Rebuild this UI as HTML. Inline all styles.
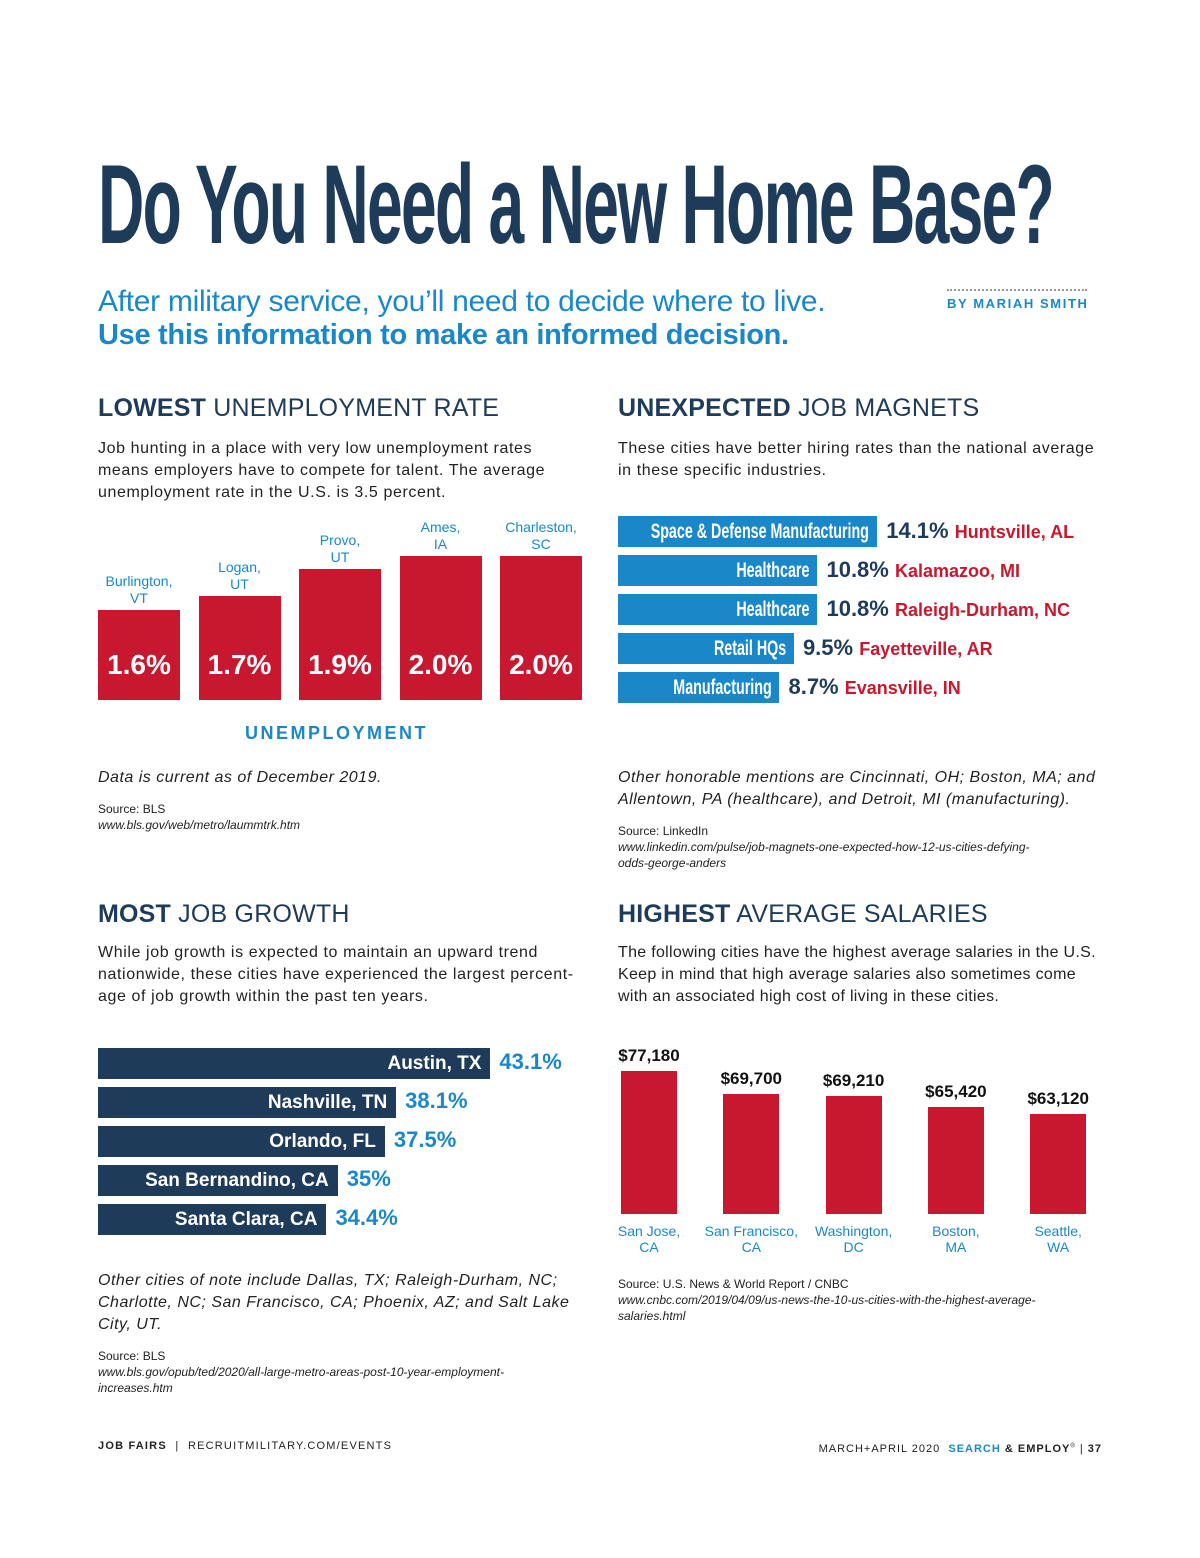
<!DOCTYPE html>
<html><head><meta charset="utf-8">
<style>
*{margin:0;padding:0;box-sizing:border-box}
body{width:1200px;height:1558px;background:#fff;position:relative;overflow:hidden;font-family:"Liberation Sans",sans-serif;color:#222}
.a{position:absolute;white-space:nowrap}
.navy{color:#1f3b5a}.blue{color:#1a88c8}.red{color:#c8182f}
.h2{font-size:25px;color:#1f3b5a;letter-spacing:0.2px}
.p{font-size:16px;line-height:22px;color:#222;letter-spacing:0.6px}
.it{font-style:italic;font-size:16px;line-height:22px;letter-spacing:0.5px}
.src{font-size:12px;line-height:16px}
.cond{position:absolute;right:8px;top:0;display:inline-block;transform:scaleX(0.68);transform-origin:right center;font-weight:bold}
</style></head><body>
<div class="a navy" id="title" style="left:98px;top:140px;font-size:112px;font-weight:bold;letter-spacing:-3px;transform-origin:left top">Do You Need a New Home Base?</div>
<div class="a blue" style="left:98px;top:285px;font-size:30px;letter-spacing:-0.3px">After military service, you’ll need to decide where to live.</div>
<div class="a blue" style="left:98px;top:319px;font-size:29px;font-weight:bold;letter-spacing:-0.3px">Use this information to make an informed decision.</div>
<div class="a" style="left:947px;top:289px;width:140px;border-top:2px dotted #999"></div>
<div class="a blue" style="left:947px;top:296px;font-size:13px;font-weight:bold;letter-spacing:1.6px">BY MARIAH SMITH</div>

<div class="a h2" style="left:98px;top:394px"><b>LOWEST</b> UNEMPLOYMENT RATE</div>
<div class="a p" style="left:98px;top:438px">Job hunting in a place with very low unemployment rates<br>means employers have to compete for talent. The average<br>unemployment rate in the U.S. is 3.5 percent.</div>
<div id="unemp"></div>
<div class="a blue" style="left:245px;top:723px;font-size:18px;font-weight:bold;letter-spacing:2.5px">UNEMPLOYMENT</div>
<div class="a it" style="left:98px;top:767px">Data is current as of December 2019.</div>
<div class="a src" style="left:98px;top:801px">Source: BLS<br><i>www.bls.gov/web/metro/laummtrk.htm</i></div>

<div class="a h2" style="left:618px;top:394px"><b>UNEXPECTED</b> JOB MAGNETS</div>
<div class="a p" style="left:618px;top:438px">These cities have better hiring rates than the national average<br>in these specific industries.</div>
<div id="magnets"></div>
<div class="a it" style="left:618px;top:767px">Other honorable mentions are Cincinnati, OH; Boston, MA; and<br>Allentown, PA (healthcare), and Detroit, MI (manufacturing).</div>
<div class="a src" style="left:618px;top:823px">Source: LinkedIn<br><i>www.linkedin.com/pulse/job-magnets-one-expected-how-12-us-cities-defying-<br>odds-george-anders</i></div>

<div class="a h2" style="left:98px;top:900px"><b>MOST</b> JOB GROWTH</div>
<div class="a p" style="left:98px;top:942px">While job growth is expected to maintain an upward trend<br>nationwide, these cities have experienced the largest percent-<br>age of job growth within the past ten years.</div>
<div id="growth"></div>
<div class="a it" style="left:98px;top:1270px">Other cities of note include Dallas, TX; Raleigh-Durham, NC;<br>Charlotte, NC; San Francisco, CA; Phoenix, AZ; and Salt Lake<br>City, UT.</div>
<div class="a src" style="left:98px;top:1348px">Source: BLS<br><i>www.bls.gov/opub/ted/2020/all-large-metro-areas-post-10-year-employment-<br>increases.htm</i></div>

<div class="a h2" style="left:618px;top:900px"><b>HIGHEST</b> AVERAGE SALARIES</div>
<div class="a p" style="left:618px;top:942px;letter-spacing:0.3px">The following cities have the highest average salaries in the U.S.<br>Keep in mind that high average salaries also sometimes come<br>with an associated high cost of living in these cities.</div>
<div id="sal"></div>
<div class="a src" style="left:618px;top:1276px">Source: U.S. News &amp; World Report / CNBC<br><i>www.cnbc.com/2019/04/09/us-news-the-10-us-cities-with-the-highest-average-<br>salaries.html</i></div>

<div class="a" style="left:98px;top:1440px;font-size:11px;letter-spacing:1.2px"><b>JOB FAIRS</b> &nbsp;|&nbsp; RECRUITMILITARY.COM/EVENTS</div>
<div class="a" style="right:98px;top:1443px;font-size:11px;letter-spacing:1px">MARCH+APRIL 2020 &nbsp;<b class="blue">SEARCH</b> <b>&amp; EMPLOY</b><sup style="font-size:6px">®</sup> | <b>37</b></div>

<script>
const unempCities=["Burlington,<br>VT","Logan,<br>UT","Provo,<br>UT","Ames,<br>IA","Charleston,<br>SC"];
const unempValues=[1.6,1.7,1.9,2.0,2.0];
const magnetIndustries=["Space & Defense Manufacturing","Healthcare","Healthcare","Retail HQs","Manufacturing"];
const magnetValues=[14.1,10.8,10.8,9.5,8.7];
const magnetCities=["Huntsville, AL","Kalamazoo, MI","Raleigh-Durham, NC","Fayetteville, AR","Evansville, IN"];
const growthCities=["Austin, TX","Nashville, TN","Orlando, FL","San Bernandino, CA","Santa Clara, CA"];
const growthValues=[43.1,38.1,37.5,35,34.4];
const growthLabels=["43.1%","38.1%","37.5%","35%","34.4%"];
const salCities=["San Jose,<br>CA","San Francisco,<br>CA","Washington,<br>DC","Boston,<br>MA","Seattle,<br>WA"];
const salValues=[77180,69700,69210,65420,63120];
const salLabels=["$77,180","$69,700","$69,210","$65,420","$63,120"];

const title=document.getElementById('title');
title.style.transform='scaleX('+(955/title.offsetWidth)+')';

function mk(parent,html,css){const d=document.createElement('div');d.className='a';d.innerHTML=html;d.style.cssText=css;document.getElementById(parent).appendChild(d);return d;}
const uY=v=>135*(v-0.933);
unempValues.forEach((v,i)=>{const x=98+i*100.5,h=uY(v);
 const b=mk('unemp','',`left:${x}px;top:${700-h}px;width:82px;height:${h}px;background:#c8182f`);
 
 
 const t=mk('unemp',v.toFixed(1)+'%',`left:${x}px;top:649px;width:82px;text-align:center;color:#fff;font-weight:bold;font-size:28px`);
 
 
 const l=mk('unemp',unempCities[i],`left:${x-20}px;top:${700-h-37}px;width:122px;text-align:center;color:#1a88c8;font-size:14px;line-height:17px`);
 
 
});
const mW=v=>18.1*v+4;
magnetValues.forEach((v,i)=>{const y=516+i*39,w=mW(v);
 const b=mk('magnets',`<span class="cond">${magnetIndustries[i].replace('&','&amp;')}</span>`,`left:618px;top:${y}px;width:${w}px;height:31px;background:#1a88c8;color:#fff;font-size:21px;line-height:31px;overflow:hidden`);
 
 
 const t=mk('magnets',`<b class="navy">${v.toFixed(1)}%</b> <b class="red" style="font-size:18px">${magnetCities[i]}</b>`,`left:${618+w+9}px;top:${y+2}px;font-size:22px`);
 
 
});
const gW=v=>18.85*v-420;
growthValues.forEach((v,i)=>{const y=1048+i*39,w=gW(v);
 const b=mk('growth',growthCities[i],`left:98px;top:${y}px;width:${w}px;height:31px;background:#1f3b5a;color:#fff;font-size:19px;font-weight:bold;line-height:31px;text-align:right;padding-right:9px`);
 
 
 const t=mk('growth',growthLabels[i],`left:${98+w+9}px;top:${y+1}px;font-size:22px;font-weight:bold;color:#1a88c8`);
 
 
});
const sH=v=>0.0031*(v-31000);
salValues.forEach((v,i)=>{const x=621+i*102.3,h=sH(v);
 const b=mk('sal','',`left:${x}px;top:${1214-h}px;width:56px;height:${h}px;background:#c8182f`);
 
 
 const t=mk('sal',salLabels[i],`left:${x-22}px;top:${1214-h-25}px;width:100px;text-align:center;font-size:17px;font-weight:bold;color:#111`);
 
 
 const l=mk('sal',salCities[i],`left:${x-32}px;top:1223px;width:120px;text-align:center;font-size:14px;line-height:16px;color:#1a88c8`);
 
 
});
</script>
</body></html>
